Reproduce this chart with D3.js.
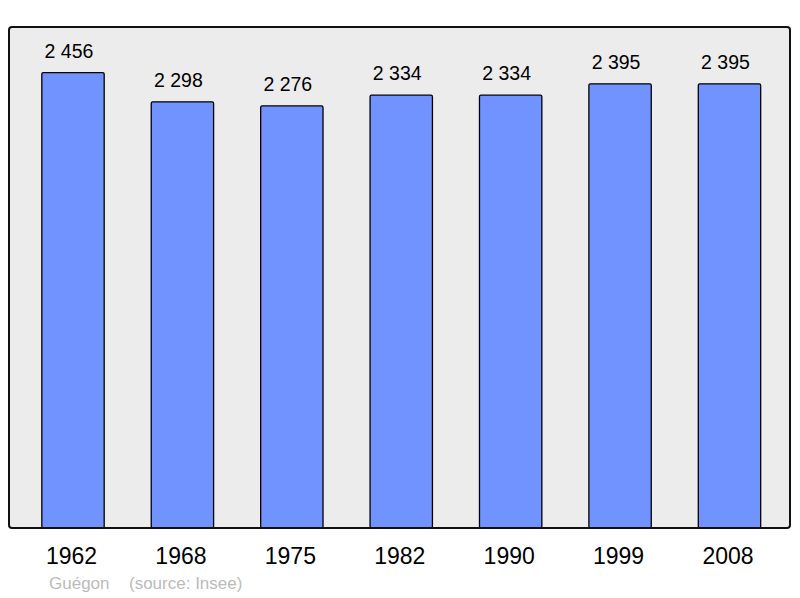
<!DOCTYPE html>
<html>
<head>
<meta charset="utf-8">
<script src="https://cdn.jsdelivr.net/npm/d3@7"></script>
<style>
  body { margin: 0; background: #fff; }
  text { font-family: "Liberation Sans", Arial, sans-serif; }
</style>
</head>
<body>
<script>
var years = ["1962", "1968", "1975", "1982", "1990", "1999", "2008"];
var population = [2456, 2298, 2276, 2334, 2334, 2395, 2395];
var footer = ["Guégon", "(source: Insee)"];

var width = 800, height = 598;
var panel = {left: 9, top: 27, right: 790, bottom: 528};

var svg = d3.select("body").append("svg")
  .attr("width", width)
  .attr("height", height);

// panel background
svg.append("rect")
  .attr("x", panel.left)
  .attr("y", panel.top)
  .attr("width", panel.right - panel.left)
  .attr("height", panel.bottom - panel.top)
  .attr("rx", 3)
  .attr("fill", "#ececec");

var x = d3.scaleBand()
  .domain(years)
  .range([18.3, 784.2])
  .paddingInner(0.43)
  .paddingOuter(0.215);

var y = d3.scaleLinear()
  .domain([0, d3.max(population) * 1.1])
  .range([panel.bottom, panel.top]);

svg.selectAll("rect.bar")
  .data(population)
  .enter().append("rect")
    .attr("class", "bar")
    .attr("x", function(d, i) { return x(years[i]); })
    .attr("y", function(d) { return y(d); })
    .attr("width", x.bandwidth())
    .attr("height", function(d) { return y(0) - y(d); })
    .attr("rx", 1.5)
    .attr("fill", "#7093ff")
    .attr("stroke", "#000")
    .attr("stroke-width", 1.3);

// value labels, french thousands separator; sit a bit left of the bar centre
svg.selectAll("text.value")
  .data(population)
  .enter().append("text")
    .attr("class", "value")
    .attr("x", function(d, i) { return x(years[i]) + x.bandwidth() / 2 - 4; })
    .attr("y", function(d) { return y(d) - 15; })
    .attr("text-anchor", "middle")
    .attr("font-size", 19.5)
    .attr("fill", "#000")
    .text(function(d) { return d3.format(",")(d).replace(",", " "); });

// panel border on top of the bars
svg.append("rect")
  .attr("x", panel.left)
  .attr("y", panel.top)
  .attr("width", panel.right - panel.left)
  .attr("height", panel.bottom - panel.top)
  .attr("rx", 3)
  .attr("fill", "none")
  .attr("stroke", "#111")
  .attr("stroke-width", 2);

var xAxis = svg.append("g")
  .attr("transform", "translate(0," + panel.bottom + ")")
  .call(d3.axisBottom(x).tickSize(0).tickPadding(20));
xAxis.select(".domain").remove();
xAxis.selectAll("text")
  .attr("font-size", 23)
  .attr("font-family", "Liberation Sans, Arial, sans-serif")
  .attr("fill", "#000")
  .attr("dx", -1.5);

svg.append("text")
  .attr("x", 49)
  .attr("y", 589)
  .attr("font-size", 17)
  .attr("fill", "#bbb")
  .text(footer[0]);

svg.append("text")
  .attr("x", 129)
  .attr("y", 589)
  .attr("font-size", 17)
  .attr("fill", "#bbb")
  .text(footer[1]);
</script>
</body>
</html>
